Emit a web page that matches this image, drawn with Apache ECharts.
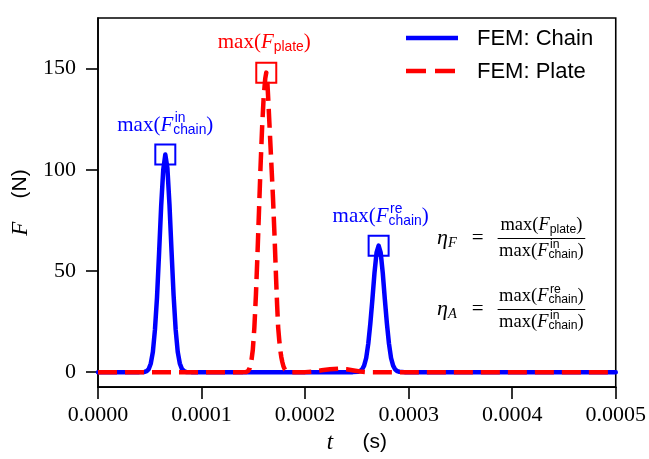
<!DOCTYPE html>
<html>
<head>
<meta charset="utf-8">
<script src="https://cdn.jsdelivr.net/npm/echarts@6/dist/echarts.min.js"></script>
<style>
  html, body { margin: 0; padding: 0; background: #ffffff; }
  #chart { width: 649px; height: 459px; }
</style>
</head>
<body>
<div id="chart"></div>
<script>
// Contact force histories from the FEM runs (time in microseconds, force in N)
const chainTimeUs = [0, 40, 45, 47, 49, 51, 53, 55, 57, 59, 61, 63, 65, 67, 69, 71, 73, 75, 77, 79, 81, 83, 85, 90,
  246, 251, 253, 255, 257, 259, 261, 263, 265, 267, 269, 271, 273, 275, 277, 279, 281, 283, 285, 287, 289, 291, 296, 500];
const chainForce = [0, 0, 0.1, 0.5, 1.5, 4.3, 10, 21, 37, 59, 82, 100, 107.5, 101, 83, 60, 38, 21, 10, 4.3, 1.6, 0.5, 0.1, 0,
  0, 0.2, 0.5, 1.3, 3.2, 7, 14, 24, 36, 49, 59, 62.5, 59, 49, 36, 24, 14, 7, 3.2, 1.3, 0.5, 0.2, 0, 0];

const plateTimeUs = [0, 140, 143, 145, 146.5, 148, 149.5, 151, 152.5, 154, 155.5, 157, 158.5, 160, 161.5, 162.5,
  163.5, 164.5, 166, 167.5, 169, 170.5, 172, 173, 174, 175, 176, 177, 178, 179, 180.5, 182.5, 185,
  200, 208, 216, 224, 232, 240, 247, 253, 260, 500];
const plateForce = [0, 0, 0.1, 0.6, 2, 5, 11, 22, 38, 58, 80, 102, 121, 136, 145, 148,
  144, 134, 118, 102, 86, 67, 46, 33, 22, 16, 11, 7.5, 5, 3, 1.2, 0.3, 0,
  0, 0.3, 0.9, 1.4, 1.7, 1.4, 0.8, 0.3, 0, 0];

const xTicks = [0, 0.0001, 0.0002, 0.0003, 0.0004, 0.0005];
const yTicks = [0, 50, 100, 150];
const seriesNames = ['FEM: Chain', 'FEM: Plate'];
const seriesColors = ['#0000ff', '#ff0000'];

const SERIF = '"Liberation Serif", "DejaVu Serif", serif';
const SANS = '"Liberation Sans", "DejaVu Sans", sans-serif';

function toPairs(ts, vs) {
  return ts.map((t, i) => [t * 1e-6, vs[i]]);
}

// local maxima above a threshold: used to frame the force peaks
function localPeaks(pairs, minVal) {
  const out = [];
  for (let i = 1; i < pairs.length - 1; i++) {
    const v = pairs[i][1];
    if (v > minVal && v >= pairs[i - 1][1] && v > pairs[i + 1][1]) out.push(pairs[i]);
  }
  return out;
}

const chainData = toPairs(chainTimeUs, chainForce);
const plateData = toPairs(plateTimeUs, plateForce);
const chainPeaks = localPeaks(chainData, 10);
const platePeaks = localPeaks(plateData, 10);

function peakBoxes(peaks, color) {
  return {
    symbol: 'rect',
    symbolSize: 20,
    silent: true,
    animation: false,
    label: { show: false },
    itemStyle: { color: 'rgba(0,0,0,0)', borderColor: color, borderWidth: 2 },
    data: peaks.map(p => ({ coord: p }))
  };
}

const chart = echarts.init(document.getElementById('chart'), null, { renderer: 'canvas' });

chart.setOption({
  animation: false,
  backgroundColor: '#ffffff',
  grid: {
    left: 98, right: 29, top: 18, bottom: 71,
    show: true, borderColor: '#000000', borderWidth: 1.6, containLabel: false
  },
  xAxis: {
    type: 'value',
    min: 0, max: 0.0005, interval: 0.0001,
    name: '{i|t}{s|     (s)}',
    nameLocation: 'middle',
    nameGap: 43,
    nameTextStyle: {
      rich: {
        i: { fontFamily: SERIF, fontStyle: 'italic', fontSize: 23, color: '#000' },
        s: { fontFamily: SANS, fontSize: 21, color: '#000' }
      }
    },
    axisLine: { show: true, onZero: false, lineStyle: { color: '#000', width: 1.6 } },
    axisTick: { show: true, length: 12, lineStyle: { color: '#000', width: 1.6 }, customValues: xTicks },
    axisLabel: {
      customValues: xTicks,
      formatter: v => v.toFixed(4),
      fontFamily: SERIF, fontSize: 22, color: '#000', margin: 17,
      showMinLabel: true, showMaxLabel: true
    },
    splitLine: { show: false }
  },
  yAxis: {
    type: 'value',
    min: -7.4, max: 175,
    name: '{i|F}{s|    (N)}',
    nameLocation: 'middle',
    nameGap: 63,
    nameTextStyle: {
      rich: {
        i: { fontFamily: SERIF, fontStyle: 'italic', fontSize: 23, color: '#000' },
        s: { fontFamily: SANS, fontSize: 21, color: '#000' }
      }
    },
    axisLine: { show: true, onZero: false, lineStyle: { color: '#000', width: 1.6 } },
    axisTick: { show: true, length: 12, lineStyle: { color: '#000', width: 1.6 }, customValues: yTicks },
    axisLabel: {
      customValues: yTicks,
      fontFamily: SERIF, fontSize: 22, color: '#000', margin: 22
    },
    splitLine: { show: false }
  },
  series: [
    {
      name: seriesNames[0],
      type: 'line',
      data: chainData,
      showSymbol: false,
      symbol: 'none',
      lineStyle: { color: seriesColors[0], width: 4.5, cap: 'round', join: 'round' },
      markPoint: peakBoxes(chainPeaks, seriesColors[0]),
      z: 2
    },
    {
      name: seriesNames[1],
      type: 'line',
      data: plateData,
      showSymbol: false,
      symbol: 'none',
      lineStyle: { color: seriesColors[1], width: 4.5, type: [19, 8], cap: 'butt', join: 'round' },
      markPoint: peakBoxes(platePeaks, seriesColors[1]),
      z: 3
    }
  ]
});

// ---- math-style text built from measured pieces ----
const measureCtx = document.createElement('canvas').getContext('2d');
function fontStr(kind, size) {
  if (kind === 'it') return 'italic ' + size + 'px ' + SERIF;
  if (kind === 'ss') return size + 'px ' + SANS;
  return size + 'px ' + SERIF;
}
function textWidth(text, font) {
  measureCtx.font = font;
  return measureCtx.measureText(text).width;
}
function mathRow(pieces, size) {
  const small = size * 0.66;
  const items = [];
  let x = 0;
  for (const p of pieces) {
    if (p.s !== undefined) {
      const f = fontStr(p.k, size);
      items.push({ text: p.s, font: f, x: x, dy: 0 });
      x += textWidth(p.s, f) + (p.k === 'it' ? 1.5 : 0);
    } else {
      const f = fontStr(p.sk || 'ss', small);
      let w = 0;
      const both = p.sup && p.sub;
      if (p.sup) {
        items.push({ text: p.sup, font: f, x: x, dy: -0.36 * size });
        w = Math.max(w, textWidth(p.sup, f));
      }
      if (p.sub) {
        items.push({ text: p.sub, font: f, x: x - 1.5, dy: (both ? 0.2 : 0.24) * size });
        w = Math.max(w, textWidth(p.sub, f) - 1.5);
      }
      x += w;
    }
  }
  return { items: items, width: x };
}
function mathText(pieces, size, cx, cy, color, anchor) {
  const row = mathRow(pieces, size);
  const x0 = anchor === 'left' ? cx : cx - row.width / 2;
  return {
    els: row.items.map(it => ({
      type: 'text', silent: true, x: x0 + it.x, y: cy + it.dy,
      style: { text: it.text, font: it.font, fill: color, align: 'left', verticalAlign: 'middle',
               textAlign: 'left', textVerticalAlign: 'middle' }
    })),
    width: row.width
  };
}

const maxChainIn = [{ k: 'rm', s: 'max(' }, { k: 'it', s: 'F' }, { sup: 'in', sub: 'chain' }, { k: 'rm', s: ')' }];
const maxChainRe = [{ k: 'rm', s: 'max(' }, { k: 'it', s: 'F' }, { sup: 're', sub: 'chain' }, { k: 'rm', s: ')' }];
const maxPlate = [{ k: 'rm', s: 'max(' }, { k: 'it', s: 'F' }, { sub: 'plate' }, { k: 'rm', s: ')' }];

function fraction(lhsSym, lhsSub, num, den, xLeft, yMid) {
  const els = [];
  const eta = mathText([{ k: 'it', s: lhsSym }, { sub: lhsSub, sk: 'it' }], 22, xLeft, yMid, '#000', 'left');
  els.push(...eta.els);
  const eqX = xLeft + eta.width + 15;
  const eqFont = '21px ' + SERIF;
  els.push({ type: 'text', silent: true, x: eqX, y: yMid,
    style: { text: '=', font: eqFont, fill: '#000', align: 'left', verticalAlign: 'middle' } });
  const fs = 18.5;
  const n = mathRow(num, fs), d = mathRow(den, fs);
  const w = Math.max(n.width, d.width) + 3;
  const fx = eqX + textWidth('=', eqFont) + 14;
  const cx = fx + w / 2;
  els.push(...mathText(num, fs, cx, yMid - 13, '#000').els);
  els.push(...mathText(den, fs, cx, yMid + 13, '#000').els);
  els.push({ type: 'line', silent: true, shape: { x1: fx, y1: yMid + 0.5, x2: fx + w, y2: yMid + 0.5 },
    style: { stroke: '#000', lineWidth: 1 } });
  return els;
}

function px(coord) { return chart.convertToPixel({ xAxisIndex: 0, yAxisIndex: 0 }, coord); }

const graphics = [];
// peak captions, placed above each framed peak
const pIn = px(chainPeaks[0]);
graphics.push(...mathText(maxChainIn, 21, pIn[0], pIn[1] - 29, seriesColors[0]).els);
const pRe = px(chainPeaks[1]);
graphics.push(...mathText(maxChainRe, 21, pRe[0] + 2, pRe[1] - 29, seriesColors[0]).els);
const pPl = px(platePeaks[0]);
graphics.push(...mathText(maxPlate, 21, pPl[0] - 2, pPl[1] - 30, seriesColors[1]).els);

// ratio definitions
graphics.push(...fraction('η', 'F', maxPlate, maxChainIn, 437, 238));
graphics.push(...fraction('η', 'A', maxChainRe, maxChainIn, 437, 309));

// legend
graphics.push({ type: 'line', silent: true, shape: { x1: 406, y1: 38, x2: 458, y2: 38 },
  style: { stroke: seriesColors[0], lineWidth: 4.5 } });
graphics.push({ type: 'text', silent: true, x: 477, y: 39,
  style: { text: seriesNames[0], font: '22px ' + SANS, fill: '#000', align: 'left', verticalAlign: 'middle' } });
graphics.push({ type: 'line', silent: true, shape: { x1: 406, y1: 71, x2: 458, y2: 71 },
  style: { stroke: seriesColors[1], lineWidth: 4.5, lineDash: [20, 9] } });
graphics.push({ type: 'text', silent: true, x: 477, y: 72,
  style: { text: seriesNames[1], font: '22px ' + SANS, fill: '#000', align: 'left', verticalAlign: 'middle' } });

chart.setOption({ graphic: { elements: graphics } });
</script>
</body>
</html>
